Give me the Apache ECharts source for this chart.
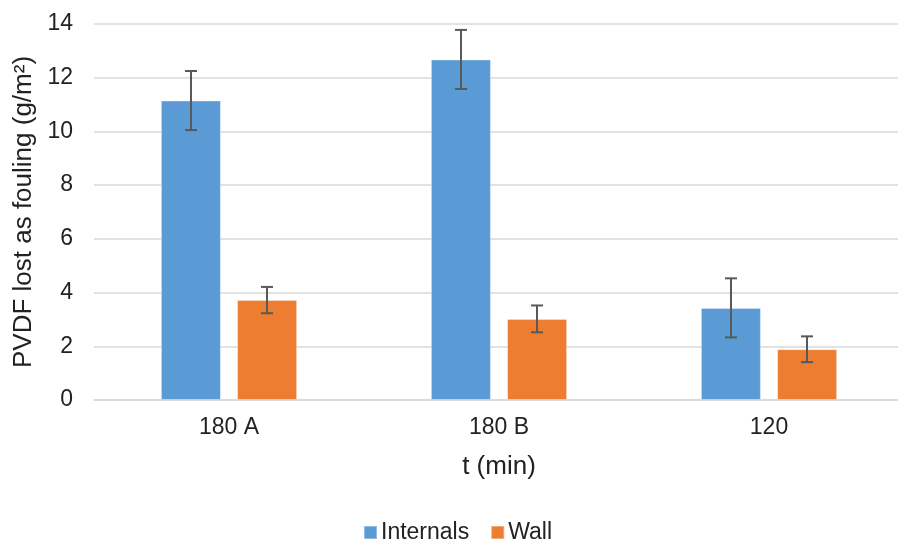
<!DOCTYPE html>
<html><head><meta charset="utf-8">
<script src="https://cdn.jsdelivr.net/npm/echarts@6/dist/echarts.min.js"></script>
<style>html,body{margin:0;padding:0;background:#fff}#c{width:898px;height:542px}</style>
</head><body><div id="c"></div>
<script>
const categories = ['180 A', '180 B', '120'];
const internals = [11.15, 12.68, 3.43];
const internalsErr = [1.1, 1.1, 1.1];
const wall = [3.72, 3.02, 1.89];
const wallErr = [0.49, 0.5, 0.48];
const yTicks = [0, 2, 4, 6, 8, 10, 12, 14];

const font = 'Liberation Sans, Arial, sans-serif';
const chart = echarts.init(document.getElementById('c'));

function errSeries(name, vals, errs, offset) {
  return {
    type: 'custom', name: name + ' err', z: 10, silent: true,
    data: vals.map((v, i) => [i, v, errs[i]]),
    renderItem: function (params, api) {
      const i = api.value(0), v = api.value(1), e = api.value(2);
      const hi = api.coord([i, v + e]);
      const lo = api.coord([i, v - e]);
      const x = hi[0] + offset;
      const cap = 6;
      const st = { stroke: '#595959', lineWidth: 2 };
      return { type: 'group', children: [
        { type: 'line', shape: { x1: x, y1: hi[1], x2: x, y2: lo[1] }, style: st },
        { type: 'line', shape: { x1: x - cap, y1: hi[1], x2: x + cap, y2: hi[1] }, style: st },
        { type: 'line', shape: { x1: x - cap, y1: lo[1], x2: x + cap, y2: lo[1] }, style: st }
      ]};
    }
  };
}

chart.setOption({
  animation: false,
  textStyle: { fontFamily: font },
  grid: { left: 94, top: 24, width: 810, bottom: 142, containLabel: false, outerBoundsMode: 'none' },
  legend: {
    top: 516, left: 358, itemWidth: 13, itemHeight: 13, itemGap: 21, icon: 'rect',
    data: ['Internals', 'Wall'],
    textStyle: { fontSize: 23, color: '#222', fontFamily: font, padding: [0, 0, 0, -1] }
  },
  xAxis: {
    type: 'category', data: categories,
    name: 't (min)', nameLocation: 'middle', nameGap: 54,
    nameTextStyle: { fontSize: 26, color: '#222', fontFamily: font },
    axisLine: { lineStyle: { color: '#D9D9D9', width: 1.5 } },
    axisTick: { show: false },
    axisLabel: { fontSize: 23, color: '#222', margin: 16, fontFamily: font }
  },
  yAxis: {
    type: 'value', min: 0, max: 14, interval: 2,
    name: 'PVDF lost as fouling (g/m²)', nameLocation: 'middle', nameGap: 57,
    nameTextStyle: { fontSize: 26, color: '#222', fontFamily: font },
    axisLine: { show: false }, axisTick: { show: false },
    axisLabel: { fontSize: 23, color: '#222', margin: 21, fontFamily: font,
      formatter: v => yTicks.includes(v) ? String(v) : '' },
    splitLine: { lineStyle: { color: '#D9D9D9', width: 1.5 } }
  },
  series: [
    { type: 'bar', name: 'Internals', data: internals, barWidth: 60, barGap: '27%',
      itemStyle: { color: '#5B9BD5', borderColor: 'rgba(255,255,255,0.35)', borderWidth: 1 } },
    { type: 'bar', name: 'Wall', data: wall, barWidth: 60, barGap: '27%',
      itemStyle: { color: '#ED7D31', borderColor: 'rgba(255,255,255,0.35)', borderWidth: 1 } },
    errSeries('Internals', internals, internalsErr, -38),
    errSeries('Wall', wall, wallErr, 38)
  ]
});
</script></body></html>
